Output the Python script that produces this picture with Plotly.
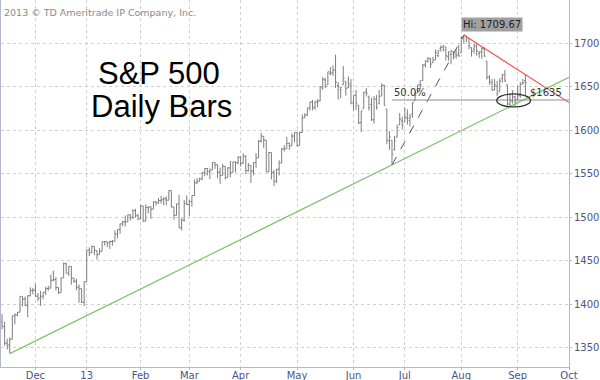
import plotly.graph_objects as go

# ---------------- data (S&P 500 daily bars) ----------------
dates = [
 "2012-11-12","2012-11-13","2012-11-14","2012-11-15","2012-11-16","2012-11-19","2012-11-20","2012-11-21","2012-11-23",
 "2012-11-26","2012-11-27","2012-11-28","2012-11-29","2012-11-30",
 "2012-12-03","2012-12-04","2012-12-05","2012-12-06","2012-12-07","2012-12-10","2012-12-11","2012-12-12","2012-12-13",
 "2012-12-14","2012-12-17","2012-12-18","2012-12-19","2012-12-20","2012-12-21","2012-12-24","2012-12-26","2012-12-27",
 "2012-12-28","2012-12-31",
 "2013-01-02","2013-01-03","2013-01-04","2013-01-07","2013-01-08","2013-01-09","2013-01-10","2013-01-11","2013-01-14",
 "2013-01-15","2013-01-16","2013-01-17","2013-01-18","2013-01-22","2013-01-23","2013-01-24","2013-01-25","2013-01-28",
 "2013-01-29","2013-01-30","2013-01-31",
 "2013-02-01","2013-02-04","2013-02-05","2013-02-06","2013-02-07","2013-02-08","2013-02-11","2013-02-12","2013-02-13",
 "2013-02-14","2013-02-15","2013-02-19","2013-02-20","2013-02-21","2013-02-22","2013-02-25","2013-02-26","2013-02-27",
 "2013-02-28",
 "2013-03-01","2013-03-04","2013-03-05","2013-03-06","2013-03-07","2013-03-08","2013-03-11","2013-03-12","2013-03-13",
 "2013-03-14","2013-03-15","2013-03-18","2013-03-19","2013-03-20","2013-03-21","2013-03-22","2013-03-25","2013-03-26",
 "2013-03-27","2013-03-28",
 "2013-04-01","2013-04-02","2013-04-03","2013-04-04","2013-04-05","2013-04-08","2013-04-09","2013-04-10","2013-04-11",
 "2013-04-12","2013-04-15","2013-04-16","2013-04-17","2013-04-18","2013-04-19","2013-04-22","2013-04-23","2013-04-24",
 "2013-04-25","2013-04-26","2013-04-29","2013-04-30",
 "2013-05-01","2013-05-02","2013-05-03","2013-05-06","2013-05-07","2013-05-08","2013-05-09","2013-05-10","2013-05-13",
 "2013-05-14","2013-05-15","2013-05-16","2013-05-17","2013-05-20","2013-05-21","2013-05-22","2013-05-23","2013-05-24",
 "2013-05-28","2013-05-29","2013-05-30","2013-05-31",
 "2013-06-03","2013-06-04","2013-06-05","2013-06-06","2013-06-07","2013-06-10","2013-06-11","2013-06-12","2013-06-13",
 "2013-06-14","2013-06-17","2013-06-18","2013-06-19","2013-06-20","2013-06-21","2013-06-24","2013-06-25","2013-06-26",
 "2013-06-27","2013-06-28",
 "2013-07-01","2013-07-02","2013-07-03","2013-07-05","2013-07-08","2013-07-09","2013-07-10","2013-07-11","2013-07-12",
 "2013-07-15","2013-07-16","2013-07-17","2013-07-18","2013-07-19","2013-07-22","2013-07-23","2013-07-24","2013-07-25",
 "2013-07-26","2013-07-29","2013-07-30","2013-07-31",
 "2013-08-01","2013-08-02","2013-08-05","2013-08-06","2013-08-07","2013-08-08","2013-08-09","2013-08-12","2013-08-13",
 "2013-08-14","2013-08-15","2013-08-16","2013-08-19","2013-08-20","2013-08-21","2013-08-22","2013-08-23","2013-08-26",
 "2013-08-27","2013-08-28","2013-08-29","2013-08-30",
 "2013-09-03","2013-09-04","2013-09-05","2013-09-06",
]

opens = [
 1379.9,1380.0,1374.6,1355.4,1353.4,1359.9,1386.8,1387.8,1391.0,1409.2,1406.3,1398.8,1410.0,1416.0,
 1416.3,1409.5,1407.1,1409.4,1414.0,1418.1,1418.6,1427.8,1428.5,1419.5,1413.5,1430.5,1446.8,1435.8,1443.7,1430.2,1426.7,1419.8,1418.1,1402.4,
 1426.2,1462.4,1459.4,1466.5,1461.9,1457.2,1461.0,1472.1,1472.1,1470.7,1472.3,1472.6,1481.0,1486.0,1492.6,1494.8,1494.8,1503.0,1500.2,1507.8,1502.0,
 1498.1,1513.2,1495.7,1511.3,1512.1,1509.4,1517.9,1517.0,1519.4,1520.3,1521.4,1519.8,1530.9,1512.0,1502.4,1515.6,1487.9,1496.9,1516.0,
 1514.7,1518.2,1525.2,1539.8,1541.5,1544.3,1551.2,1556.2,1552.5,1554.5,1563.2,1560.7,1552.1,1548.3,1558.7,1545.9,1556.9,1551.7,1563.8,1562.9,
 1569.2,1562.2,1570.3,1553.7,1560.0,1553.3,1563.1,1568.6,1587.7,1593.3,1588.8,1552.4,1574.6,1552.0,1541.6,1555.3,1562.5,1578.8,1578.9,1585.2,1582.3,1593.6,
 1597.6,1582.8,1597.6,1614.4,1617.6,1626.0,1632.7,1626.7,1632.1,1633.8,1649.1,1658.1,1652.5,1665.7,1666.2,1669.4,1651.6,1646.7,1652.6,1656.6,1649.1,1652.1,
 1631.7,1640.7,1629.1,1609.3,1625.3,1644.7,1638.6,1629.9,1612.2,1635.5,1630.6,1639.8,1651.8,1624.6,1588.6,1588.8,1577.5,1592.3,1606.4,1611.1,
 1609.8,1614.3,1611.5,1618.7,1634.2,1642.9,1652.3,1657.4,1675.3,1679.6,1682.7,1677.9,1681.1,1686.2,1694.4,1696.1,1696.1,1685.2,1687.3,1690.3,1687.9,1687.8,
 1689.4,1706.1,1708.0,1705.8,1695.3,1693.4,1696.1,1688.4,1690.7,1693.9,1679.6,1661.2,1655.3,1646.8,1650.7,1645.0,1659.9,1664.3,1652.5,1630.3,1633.5,1638.9,
 1636.0,1640.7,1653.3,1657.4,
]

highs = [
 1384.9,1388.8,1380.1,1360.6,1362.0,1386.9,1389.8,1391.3,1409.2,1409.2,1409.0,1410.3,1419.7,1418.9,
 1423.7,1413.1,1415.6,1414.0,1420.3,1421.6,1434.3,1438.6,1431.4,1419.5,1430.7,1448.0,1447.8,1443.7,1443.7,1430.2,1429.4,1422.8,1418.1,1426.7,
 1462.4,1465.5,1467.9,1466.5,1461.9,1464.7,1472.3,1472.8,1472.1,1473.3,1474.0,1485.2,1486.0,1492.6,1496.1,1502.3,1503.3,1503.2,1509.4,1509.9,1504.2,
 1514.4,1513.2,1515.0,1512.5,1512.9,1518.3,1518.3,1522.3,1524.7,1523.1,1524.2,1530.9,1530.9,1512.0,1515.6,1525.8,1499.0,1520.1,1525.3,
 1520.0,1525.3,1543.5,1545.3,1545.8,1552.5,1556.3,1556.8,1556.4,1563.3,1563.6,1560.7,1557.3,1561.6,1558.7,1557.7,1564.9,1564.0,1564.1,1570.3,
 1570.6,1573.7,1571.5,1562.6,1560.0,1563.1,1573.9,1589.1,1597.4,1593.3,1588.8,1575.4,1574.6,1554.4,1555.9,1565.6,1579.6,1583.0,1592.6,1585.8,1596.7,1597.6,
 1597.6,1598.6,1618.5,1619.8,1626.0,1632.8,1635.0,1633.7,1636.0,1651.1,1661.5,1660.5,1667.5,1672.8,1674.9,1687.2,1655.5,1649.8,1674.2,1656.6,1661.9,1659.0,
 1640.4,1646.5,1629.3,1622.6,1644.4,1648.7,1640.1,1637.7,1639.3,1640.8,1646.5,1654.2,1652.5,1624.6,1599.2,1588.8,1593.8,1606.8,1620.1,1615.9,
 1626.6,1624.3,1619.0,1632.1,1644.7,1652.5,1657.9,1676.6,1680.2,1684.5,1683.7,1684.8,1693.1,1692.1,1697.6,1698.4,1696.1,1690.9,1691.9,1690.9,1693.2,1698.4,
 1707.9,1709.67,1709.2,1705.8,1695.3,1700.2,1699.4,1691.5,1696.8,1695.5,1679.6,1663.6,1659.2,1658.9,1657.0,1659.6,1664.9,1669.5,1652.5,1641.2,1646.4,1640.1,
 1651.4,1655.7,1659.2,1664.8,
]

lows = [
 1377.2,1371.4,1352.5,1348.1,1343.35,1359.9,1377.0,1386.4,1391.0,1397.7,1398.0,1385.4,1409.0,1411.6,
 1408.5,1403.7,1398.2,1405.9,1410.9,1415.6,1418.6,1426.8,1416.0,1411.9,1413.5,1430.5,1435.8,1432.8,1422.6,1424.7,1416.4,1401.8,1401.6,1398.1,
 1426.2,1455.5,1459.0,1456.6,1451.6,1457.2,1461.0,1467.6,1465.7,1463.8,1467.6,1472.6,1475.8,1481.2,1489.9,1489.5,1494.8,1496.3,1498.1,1500.1,1496.8,
 1498.1,1495.0,1495.7,1504.7,1498.5,1509.4,1513.6,1515.6,1515.9,1514.0,1514.1,1519.8,1511.4,1497.3,1502.4,1487.9,1485.0,1494.9,1514.5,
 1501.5,1512.3,1525.2,1538.1,1541.5,1542.9,1547.4,1548.2,1544.0,1554.5,1555.7,1545.1,1538.6,1548.3,1543.6,1545.9,1546.2,1551.7,1551.9,1561.1,
 1558.5,1562.2,1549.8,1552.5,1539.5,1548.6,1557.2,1568.6,1586.2,1580.0,1552.3,1552.4,1543.7,1536.0,1539.4,1548.2,1562.5,1575.8,1578.9,1577.6,1582.3,1586.5,
 1581.3,1582.8,1597.6,1614.2,1616.6,1622.7,1623.1,1623.7,1626.7,1633.8,1646.7,1648.6,1652.5,1663.5,1662.7,1648.9,1635.5,1636.9,1652.6,1640.1,1648.6,1630.7,
 1622.7,1623.6,1607.1,1598.2,1625.3,1639.3,1622.9,1610.9,1608.1,1624.0,1630.3,1639.8,1628.9,1584.3,1577.7,1560.33,1577.1,1592.3,1606.4,1601.1,
 1609.8,1606.8,1604.6,1614.7,1634.2,1642.9,1647.7,1657.4,1672.3,1677.9,1671.8,1677.9,1681.1,1684.1,1690.7,1691.1,1680.5,1680.1,1676.0,1681.9,1682.4,1684.9,
 1689.4,1700.7,1701.6,1693.3,1684.9,1688.4,1686.0,1683.4,1682.6,1684.8,1658.6,1652.6,1646.1,1646.1,1639.4,1645.0,1654.8,1656.0,1629.1,1627.5,1630.9,1627.5,
 1633.4,1637.4,1653.1,1640.6,
]

closes = [
 1380.0,1374.5,1355.5,1353.3,1359.9,1386.9,1387.8,1391.0,1409.2,1406.3,1398.9,1409.9,1416.0,1416.2,
 1409.5,1407.1,1409.3,1413.9,1418.1,1418.6,1427.8,1428.5,1419.5,1413.6,1430.4,1446.8,1435.8,1443.7,1430.2,1426.7,1419.8,1418.1,1402.4,1426.2,
 1462.4,1459.4,1466.5,1461.9,1457.2,1461.0,1472.1,1472.1,1470.7,1472.3,1472.6,1480.9,1486.0,1492.6,1494.8,1494.8,1503.0,1500.2,1507.8,1502.0,1498.1,
 1513.2,1495.7,1511.3,1512.1,1509.4,1517.9,1517.0,1519.4,1520.3,1521.4,1519.8,1530.9,1512.0,1502.4,1515.6,1487.9,1496.9,1516.0,1514.7,
 1518.2,1525.2,1539.8,1541.5,1544.3,1551.2,1556.2,1552.5,1554.5,1563.2,1560.7,1552.1,1548.3,1558.7,1545.8,1556.9,1551.7,1563.8,1562.9,1569.2,
 1562.2,1570.3,1553.7,1560.0,1553.3,1563.1,1568.6,1587.7,1593.4,1588.9,1552.4,1574.6,1552.0,1541.6,1555.3,1562.5,1578.8,1578.8,1585.2,1582.2,1593.6,1597.6,
 1582.7,1597.6,1614.4,1617.5,1626.0,1632.7,1626.7,1633.7,1633.8,1650.3,1658.8,1650.5,1667.5,1666.3,1669.2,1655.4,1650.5,1649.6,1660.1,1648.4,1654.4,1630.7,
 1640.4,1631.4,1608.9,1622.6,1643.4,1642.8,1626.1,1612.5,1636.4,1626.7,1639.0,1651.8,1628.9,1588.2,1592.4,1573.1,1588.0,1603.3,1613.2,1606.3,
 1615.0,1614.1,1615.4,1631.9,1640.5,1652.3,1652.6,1675.0,1680.2,1682.5,1676.3,1680.9,1689.4,1692.1,1695.5,1692.4,1685.9,1690.3,1691.7,1685.3,1686.0,1685.7,
 1706.9,1709.7,1707.1,1697.4,1690.9,1697.5,1691.4,1689.5,1694.2,1685.4,1661.3,1655.8,1646.1,1652.4,1642.8,1657.0,1663.5,1656.8,1630.5,1635.0,1638.2,1633.0,
 1639.8,1653.1,1655.1,1655.2,
]

holidays = ["2012-11-22", "2012-12-25", "2013-01-01", "2013-01-21", "2013-02-18",
            "2013-03-29", "2013-05-27", "2013-07-04", "2013-09-02"]

tick_dates = ["2012-12-03", "2013-01-02", "2013-02-01", "2013-03-01", "2013-04-01", "2013-05-01",
              "2013-06-03", "2013-07-01", "2013-08-01", "2013-09-03", "2013-10-01"]
tick_labels = ["Dec", "13", "Feb", "Mar", "Apr", "May", "Jun", "Jul", "Aug", "Sep", "Oct"]
y_ticks = [1350, 1400, 1450, 1500, 1550, 1600, 1650, 1700]

# drawing anchors
nov_low_date, nov_low = "2012-11-16", 1343.35
jun_low_date, jun_low = "2013-06-24", 1560.33
aug_high_date, aug_high = "2013-08-02", 1709.67
axis_end = "2013-10-01"
green_end_value = 1661.0
red_end_value = 1632.0
retrace_level = 1635.0

# ---------------- figure ----------------
W, H = 600, 380
ML, MR, MT, MB = 1, 31, 0, 13
PW, PH = W - ML - MR, H - MT - MB

def px(xp):
    return (xp - ML) / PW

def py(yp):
    return 1 - (yp - MT) / PH

bar_color = "#7d7d7d"
fig = go.Figure(go.Ohlc(
    x=dates, open=opens, high=highs, low=lows, close=closes,
    increasing=dict(line=dict(color=bar_color, width=1)),
    decreasing=dict(line=dict(color=bar_color, width=1)),
    tickwidth=0.5, hoverinfo="skip", showlegend=False,
))

axis_col = "#b4b9cc"
lab_col = "#4b5584"

fig.update_layout(
    template="none",
    width=W, height=H,
    margin=dict(l=ML, r=MR, t=MT, b=MB, pad=0),
    paper_bgcolor="white", plot_bgcolor="white",
    showlegend=False,
    xaxis=dict(
        type="date", automargin=False,
        range=["2012-11-12 14:00", axis_end],
        rangebreaks=[dict(bounds=["sat", "mon"]), dict(values=holidays)],
        rangeslider=dict(visible=False),
        tickmode="array", tickvals=tick_dates, ticktext=tick_labels,
        showgrid=True, gridcolor="#d0d0d0", griddash="dot", gridwidth=1,
        showline=True, linecolor=axis_col, linewidth=1,
        ticks="outside", ticklen=2, tickcolor=axis_col,
        ticklabelstandoff=-3,
        tickfont=dict(family="DejaVu Sans", size=10, color=lab_col),
        zeroline=False,
    ),
    yaxis=dict(
        side="right", range=[1328, 1750], automargin=False,
        tickmode="array", tickvals=y_ticks,
        showgrid=True, gridcolor="#d0d0d0", griddash="dot", gridwidth=1,
        showline=True, linecolor=axis_col, linewidth=1, mirror=True,
        ticks="outside", ticklen=2, tickcolor=axis_col,
        tickfont=dict(family="DejaVu Sans", size=10, color=lab_col),
        zeroline=False,
    ),
)

shapes = [
    # green support trend line
    dict(type="line", xref="x", yref="y", x0=nov_low_date, y0=nov_low, x1=axis_end, y1=green_end_value,
         line=dict(color="#7cc46c", width=1.2)),
    # red resistance line
    dict(type="line", xref="x", yref="y", x0=aug_high_date, y0=aug_high, x1=axis_end, y1=red_end_value,
         line=dict(color="#ee5a52", width=1.2)),
    # dashed rally line
    dict(type="line", xref="x", yref="y", x0=jun_low_date, y0=jun_low, x1=aug_high_date, y1=aug_high,
         line=dict(color="#555555", width=1, dash="dash")),
    # 50% retracement line
    dict(type="line", xref="x", yref="y", x0=jun_low_date, y0=retrace_level, x1=axis_end, y1=retrace_level,
         line=dict(color="#8c8c8c", width=1)),
    # ellipse
    dict(type="circle", xref="x", yref="y", x0="2013-08-20 20:00", x1="2013-09-10", y0=1627, y1=1642,
         line=dict(color="#333333", width=1.3)),
]
fig.update_layout(shapes=shapes)

annotations = [
    dict(text="2013 \u00a9 TD Ameritrade IP Company, Inc.", xref="paper", yref="paper",
         x=px(2), y=py(13), xanchor="left", yanchor="middle", showarrow=False,
         font=dict(family="DejaVu Sans", size=9.5, color="#8a8a8a")),
    dict(text="S&amp;P 500", xref="paper", yref="paper", x=px(159), y=py(74),
         xanchor="center", yanchor="middle", showarrow=False,
         font=dict(family="Liberation Sans", size=31, color="black")),
    dict(text="Daily Bars", xref="paper", yref="paper", x=px(161), y=py(107),
         xanchor="center", yanchor="middle", showarrow=False,
         font=dict(family="Liberation Sans", size=31, color="black")),
    dict(text="Hi: 1709.67", xref="x", yref="y", x=aug_high_date, y=aug_high,
         xanchor="left", yanchor="bottom", xshift=-3, yshift=3, showarrow=False,
         bgcolor="#a0a0a0", borderpad=1,
         font=dict(family="DejaVu Sans", size=10, color="#1e1e1e")),
    dict(text="50.0%", xref="x", yref="y", x=jun_low_date, y=retrace_level,
         xanchor="left", yanchor="bottom", yshift=0, showarrow=False,
         font=dict(family="DejaVu Sans", size=10, color="#333333")),
    dict(text="$1635", xref="x", yref="y", x="2013-09-09", y=retrace_level,
         xanchor="left", yanchor="bottom", yshift=0, showarrow=False,
         font=dict(family="DejaVu Sans", size=10, color="#333333")),
]
fig.update_layout(annotations=annotations)

# the page's default 8px body margin would push the 600x380 figure out of the window
fig.write_html("out.html", config={"displayModeBar": False},
               post_script="document.body.style.margin='0';document.body.style.overflow='hidden';")
